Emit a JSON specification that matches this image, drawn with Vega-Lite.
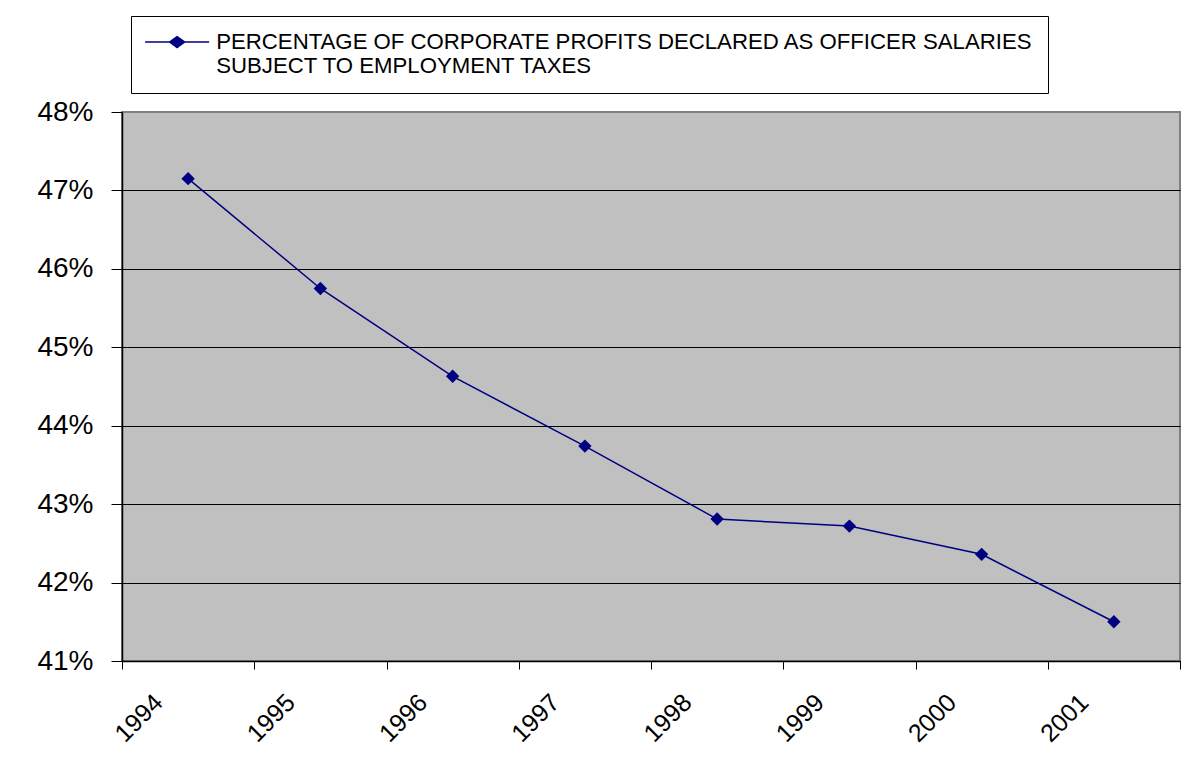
{
  "$schema": "https://vega.github.io/schema/vega-lite/v6.json",
  "width": 1058,
  "height": 549,
  "autosize": {"type": "none"},
  "padding": {"left": 122, "top": 112, "right": 21, "bottom": 110},
  "background": "white",
  "data": {
    "values": [
      {"year": "1994", "pct": 0.4715, "series": "S"},
      {"year": "1995", "pct": 0.4575, "series": "S"},
      {"year": "1996", "pct": 0.4463, "series": "S"},
      {"year": "1997", "pct": 0.4374, "series": "S"},
      {"year": "1998", "pct": 0.4281, "series": "S"},
      {"year": "1999", "pct": 0.4272, "series": "S"},
      {"year": "2000", "pct": 0.4236, "series": "S"},
      {"year": "2001", "pct": 0.4150, "series": "S"}
    ]
  },
  "encoding": {
    "x": {
      "field": "year",
      "type": "ordinal",
      "scale": {"type": "band", "paddingInner": 0, "paddingOuter": 0},
      "axis": {
        "title": null,
        "labelAngle": -45,
        "labelAlign": "right",
        "labelBaseline": "middle",
        "labelOffset": -30,
        "labelPadding": 29,
        "tickBand": "extent",
        "tickSize": 8,
        "tickColor": "#000000",
        "domainColor": "#000000",
        "domainWidth": 1.5,
        "labelFont": "Liberation Sans",
        "labelFontSize": 25,
        "labelColor": "#000000",
        "grid": false
      }
    },
    "y": {
      "field": "pct",
      "type": "quantitative",
      "scale": {"domain": [0.41, 0.48], "zero": false, "nice": false},
      "axis": {
        "title": null,
        "values": [0.41, 0.42, 0.43, 0.44, 0.45, 0.46, 0.47, 0.48],
        "format": ".0%",
        "domainColor": "#000000",
        "domainWidth": 1.5,
        "tickColor": "#000000",
        "tickSize": 11,
        "labelFont": "Liberation Sans",
        "labelFontSize": 28,
        "labelColor": "#000000",
        "labelPadding": 18,
        "grid": true,
        "gridColor": {"condition": {"test": "datum.value >= 0.479", "value": "#808080"}, "value": "#000000"},
        "gridWidth": 1
      }
    }
  },
  "layer": [
    {"mark": {"type": "line", "color": "#000080", "strokeWidth": 1.5}},
    {
      "mark": {"type": "point", "shape": "diamond", "filled": true, "size": 180, "opacity": 1},
      "encoding": {
        "color": {
          "field": "series",
          "type": "nominal",
          "scale": {"range": ["#000080"]},
          "legend": {
            "title": null,
            "orient": "none",
            "legendX": 9,
            "legendY": -96,
            "strokeColor": "#000000",
            "fillColor": "#ffffff",
            "padding": 15,
            "symbolType": "M-4,0H4M0,-0.69L0.94,0L0,0.69L-0.94,0Z",
            "symbolSize": 256,
            "symbolStrokeColor": "#000080",
            "symbolFillColor": "#000080",
            "symbolStrokeWidth": 1.5,
            "symbolOffset": 20,
            "labelFont": "Liberation Sans",
            "labelFontSize": 22.2,
            "labelColor": "#000000",
            "labelLimit": 2000,
            "labelOffset": 28,
            "labelExpr": "['PERCENTAGE OF CORPORATE PROFITS DECLARED AS OFFICER SALARIES', 'SUBJECT TO EMPLOYMENT TAXES']"
          }
        }
      }
    }
  ],
  "config": {
    "view": {"fill": "#C0C0C0", "stroke": "#808080", "strokeWidth": 2}
  }
}
